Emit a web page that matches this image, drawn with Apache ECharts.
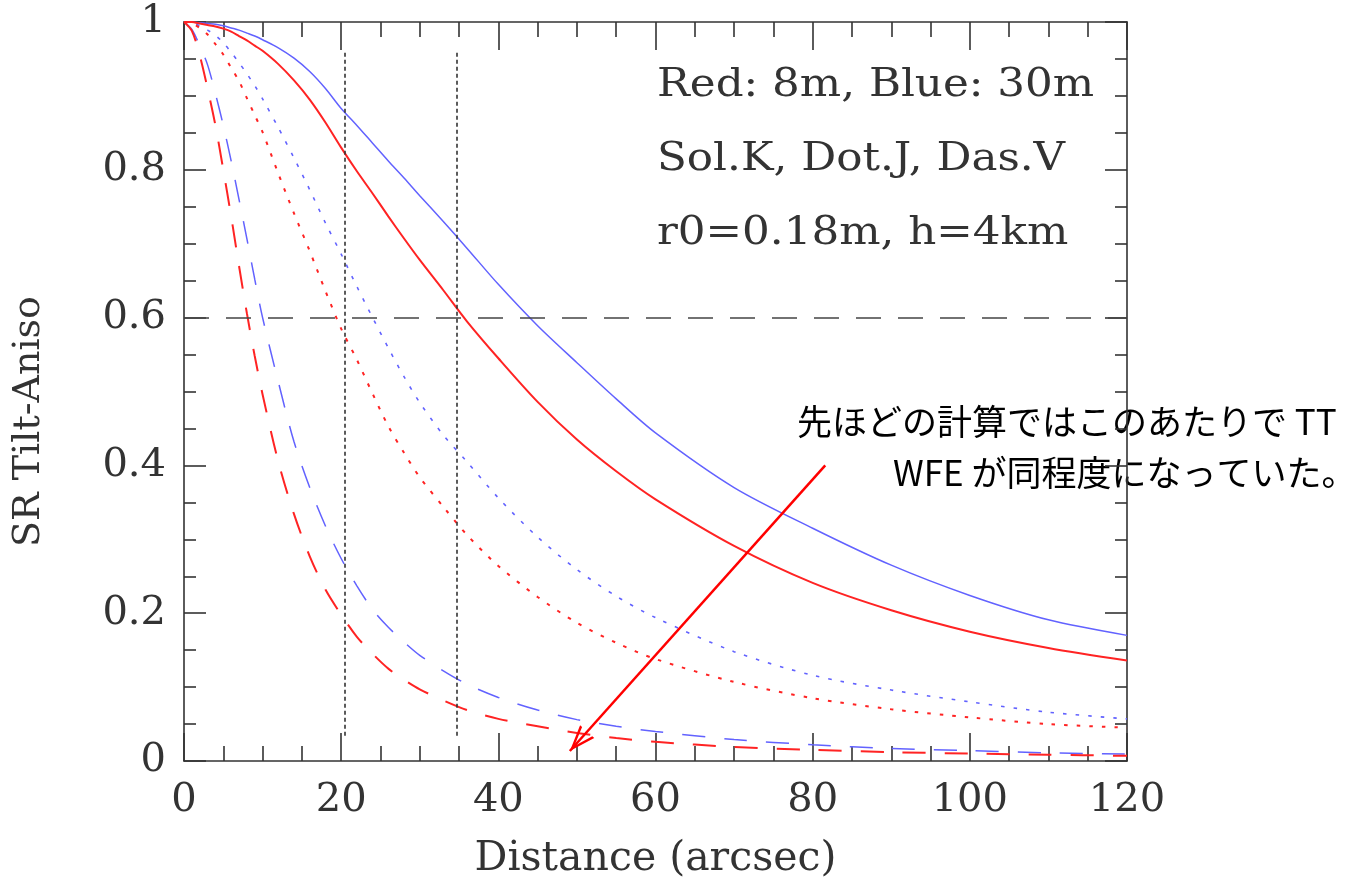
<!DOCTYPE html>
<html>
<head>
<meta charset="utf-8">
<script src="https://cdn.jsdelivr.net/npm/echarts@6/dist/echarts.min.js"></script>
<style>
html,body{margin:0;padding:0;background:#ffffff;}
#chart{width:1345px;height:885px;}
</style>
</head>
<body>
<div id="chart"></div>
<script>
// ---- data ----
const distance = [0,1,2,3,4,5,6,7,8,9,10,12,14,16,18,20,22,24,26,28,30,33,36,40,45,50,55,60,70,80,90,100,110,120];

// 30 m telescope (blue) / 8 m telescope (red); K solid, J dotted, V dashed
const blueK = [1,1.0,0.999,0.998,0.997,0.995,0.992,0.989,0.985,0.981,0.976,0.965,0.951,0.933,0.910,0.883,0.860,0.836,0.812,0.789,0.765,0.730,0.694,0.645,0.589,0.539,0.490,0.444,0.370,0.315,0.265,0.224,0.191,0.170];
const redK  = [1,1.0,0.998,0.996,0.994,0.991,0.987,0.981,0.975,0.968,0.961,0.943,0.921,0.895,0.864,0.830,0.798,0.768,0.737,0.707,0.678,0.637,0.595,0.545,0.486,0.435,0.392,0.354,0.291,0.241,0.204,0.175,0.153,0.136];
const blueJ = [1,0.999,0.995,0.989,0.982,0.972,0.959,0.945,0.930,0.914,0.896,0.857,0.816,0.773,0.728,0.686,0.642,0.600,0.559,0.520,0.485,0.441,0.405,0.356,0.303,0.259,0.223,0.194,0.148,0.116,0.096,0.080,0.066,0.057];
const redJ  = [1,0.998,0.992,0.983,0.970,0.956,0.938,0.920,0.897,0.874,0.851,0.795,0.741,0.690,0.636,0.585,0.543,0.497,0.453,0.417,0.384,0.344,0.306,0.264,0.222,0.187,0.160,0.138,0.107,0.085,0.070,0.059,0.050,0.045];
const blueV = [1,0.990,0.968,0.942,0.903,0.860,0.812,0.760,0.707,0.652,0.600,0.513,0.432,0.370,0.318,0.274,0.237,0.205,0.181,0.161,0.143,0.122,0.104,0.086,0.069,0.056,0.047,0.040,0.029,0.022,0.017,0.014,0.011,0.0095];
const redV  = [1,0.988,0.955,0.910,0.860,0.800,0.737,0.670,0.606,0.548,0.496,0.405,0.334,0.277,0.232,0.198,0.168,0.145,0.125,0.110,0.097,0.082,0.069,0.057,0.047,0.038,0.031,0.026,0.019,0.015,0.012,0.010,0.0085,0.007];

// reference lines and arrow (data coordinates)
const refDistances = [20.45, 34.7];
const refSpan = [0.034, 0.96];
const refLevel = 0.6;
const arrowFrom = [81.6, 0.40];
const arrowTo = [49.1, 0.0135];

// texts
const xTitle = 'Distance (arcsec)';
const yTitle = 'SR Tilt-Aniso';
const infoLines = ['Red: 8m, Blue: 30m', 'Sol.K, Dot.J, Das.V', 'r0=0.18m, h=4km'];
const noteLines = ['先ほどの計算ではこのあたりで TT', 'WFE が同程度になっていた。'];

// ---- chart ----
const SERIF = '"DejaVu Serif", "Liberation Serif", serif';
const CJK = '"Noto Sans CJK JP", sans-serif';
const AX = '#333333';
const BLUE = '#6262ff';
const RED = '#ff2323';
// open "V" arrow head; the tip sits at the centre of the symbol box (dummy point at the top)
const OPEN_ARROW = 'path://M5,0 L5.02,0 L5,0.02 Z M5,10 L10,20 L8.6,20 L5,12.6 L1.4,20 L0,20 Z';

function pts(vals){ return distance.map((d,i)=>[d, vals[i]]); }
function mk(name, vals, color, width, type){
  return {
    name, type:'line', data: pts(vals), showSymbol:false, symbol:'none',
    smooth:0.3, silent:true,
    lineStyle:{color, width, type}
  };
}

const series = [
  mk('30m V', blueV, BLUE, 1.5, [23,19]),
  mk('30m J', blueJ, BLUE, 1.6, [3.5,9]),
  mk('30m K', blueK, BLUE, 1.5, 'solid'),
  mk('8m V', redV, RED, 2, [23,19]),
  mk('8m J', redJ, RED, 2, [3.5,9]),
  mk('8m K', redK, RED, 2, 'solid'),
  {
    name:'guides', type:'line', data:[], silent:true,
    markLine:{
      silent:true, animation:false,
      label:{show:false},
      data:[
        [{coord:[0, refLevel], symbol:'none', lineStyle:{color:'#444', width:1.6, type:[25,17]}}, {coord:[120, refLevel], symbol:'none'}],
        [{coord:[refDistances[0], refSpan[0]], symbol:'none', lineStyle:{color:AX, width:1.6, type:[4,3]}}, {coord:[refDistances[0], refSpan[1]], symbol:'none'}],
        [{coord:[refDistances[1], refSpan[0]], symbol:'none', lineStyle:{color:AX, width:1.6, type:[4,3]}}, {coord:[refDistances[1], refSpan[1]], symbol:'none'}],
        [{coord:arrowFrom, symbol:'none', lineStyle:{color:'#ff0000', width:2.5, type:'solid'}},
         {coord:arrowTo, symbol:OPEN_ARROW, symbolSize:[19,52]}]
      ]
    }
  }
];

function axisCommon(extra){
  return Object.assign({
    type:'value',
    axisLine:{show:true, onZero:false, lineStyle:{color:AX, width:1.6}},
    splitLine:{show:false},
    minorSplitLine:{show:false}
  }, extra);
}

const option = {
  animation:false,
  backgroundColor:'#ffffff',
  grid:{left:184, right:218, top:22, bottom:122, containLabel:false},
  xAxis:[
    axisCommon({
      position:'bottom', min:0, max:120, interval:20,
      name:xTitle, nameLocation:'middle', nameGap:78,
      nameTextStyle:{fontFamily:SERIF, fontSize:41, color:AX},
      axisTick:{show:true, inside:true, length:28, lineStyle:{color:AX, width:1.6}},
      minorTick:{show:true, splitNumber:4, length:15, lineStyle:{color:AX, width:1.6}},
      axisLabel:{show:true, margin:20, fontFamily:SERIF, fontSize:40, color:AX}
    }),
    axisCommon({
      position:'top', min:0, max:120, interval:20,
      axisTick:{show:true, inside:true, length:28, lineStyle:{color:AX, width:1.6}},
      minorTick:{show:true, splitNumber:4, length:15, lineStyle:{color:AX, width:1.6}},
      axisLabel:{show:false}
    })
  ],
  yAxis:[
    axisCommon({
      position:'left', min:0, max:1, interval:0.2,
      name:yTitle, nameLocation:'middle', nameGap:136,
      nameTextStyle:{fontFamily:SERIF, fontSize:38, color:AX, padding:[0,60,0,0]},
      axisTick:{show:true, inside:true, length:22, lineStyle:{color:AX, width:1.6}},
      minorTick:{show:true, splitNumber:4, length:12, lineStyle:{color:AX, width:1.6}},
      axisLabel:{show:true, margin:18, fontFamily:SERIF, fontSize:40, color:AX}
    }),
    axisCommon({
      position:'right', min:0, max:1, interval:0.2,
      axisTick:{show:true, inside:true, length:22, lineStyle:{color:AX, width:1.6}},
      minorTick:{show:true, splitNumber:4, length:12, lineStyle:{color:AX, width:1.6}},
      axisLabel:{show:false}
    })
  ],
  series,
  graphic:[
    {type:'text', x:657, y:66, scaleX:1.09, silent:true, style:{text:infoLines[0], fontFamily:SERIF, fontSize:40, fill:AX}},
    {type:'text', x:657, y:140, scaleX:1.09, silent:true, style:{text:infoLines[1], fontFamily:SERIF, fontSize:40, fill:AX}},
    {type:'text', x:657, y:214, scaleX:1.09, silent:true, style:{text:infoLines[2], fontFamily:SERIF, fontSize:40, fill:AX}},
    {type:'text', x:797, y:404, silent:true, style:{text:noteLines[0], fontFamily:CJK, fontSize:35, fill:'#000'}},
    {type:'text', x:893, y:455, silent:true, style:{text:noteLines[1], fontFamily:CJK, fontSize:35, fill:'#000'}}
  ]
};

const chart = echarts.init(document.getElementById('chart'), null, {renderer:'canvas'});
chart.setOption(option);
</script>
</body>
</html>
